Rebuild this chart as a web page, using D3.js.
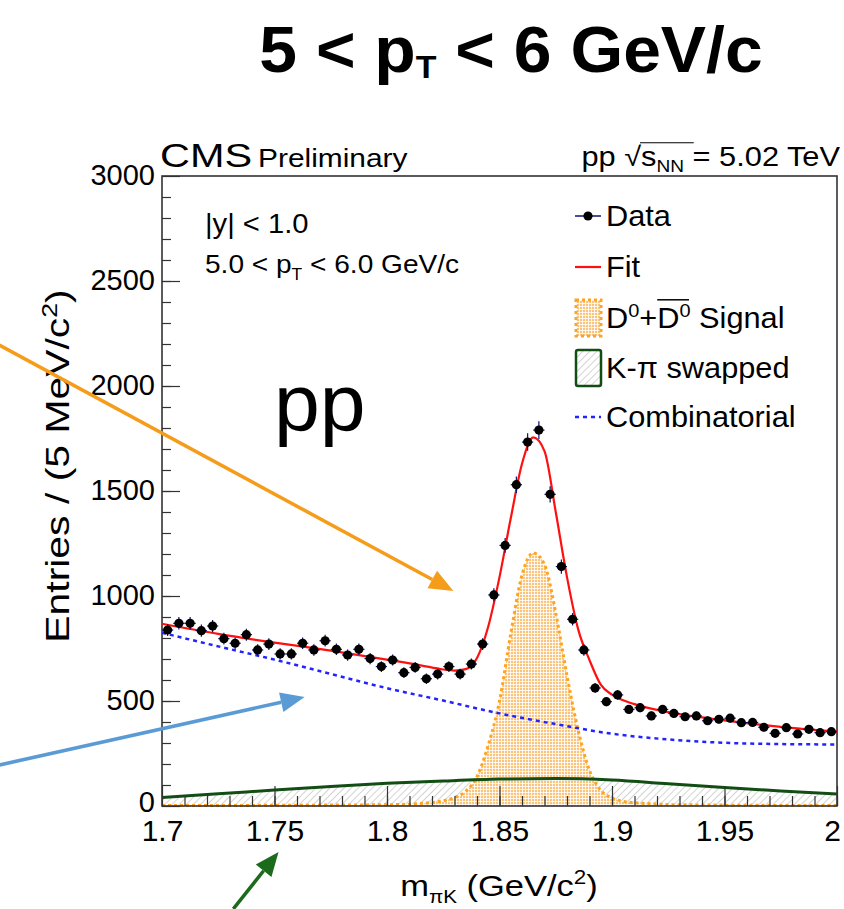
<!DOCTYPE html>
<html>
<head>
<meta charset="utf-8">
<script src="https://cdn.jsdelivr.net/npm/d3@7"></script>
<style>
  html, body { margin: 0; padding: 0; background: #fff; }
  svg { display: block; font-family: "Liberation Sans", Arial, Helvetica, sans-serif; }
</style>
</head>
<body>
<svg id="area" width="844" height="909"></svg>
<script>
// binned D0 candidate mass, 5 MeV bins from 1.7 GeV
const binLow = 1.7;
const binWidth = 0.005;
const counts = [
  838, 870, 870, 835, 857, 797, 775, 816, 743, 771,
  724, 724, 775, 743, 787, 746, 719, 746, 702, 664,
  695, 635, 660, 606, 628, 664, 628, 676, 771, 1005,
  1241, 1530, 1733, 1790, 1484, 1140, 889, 743, 562, 497,
  529, 460, 468, 429, 460, 441, 425, 429, 406, 413,
  418, 397, 398, 375, 346, 373, 343, 365, 349, 354,
];

// total fit (red)
const fitMass = [1.700, 1.725, 1.750, 1.775, 1.800, 1.815, 1.825, 1.830, 1.835, 1.840,
  1.845, 1.850, 1.855, 1.860, 1.865, 1.870, 1.875, 1.880, 1.885, 1.890,
  1.895, 1.900, 1.910, 1.925, 1.950, 1.975, 2.000];
const fitVals = [868, 820, 778, 740, 697, 670, 650, 645, 652, 705,
  855, 1090, 1370, 1630, 1755, 1690, 1400, 1090, 840, 695,
  578, 530, 485, 447, 408, 377, 354];

// combinatorial background (blue dashed)
const combMass = [1.700, 1.725, 1.750, 1.775, 1.800, 1.825, 1.850, 1.875, 1.900, 1.925, 1.950, 1.975, 2.000];
const combVals = [825, 760, 697, 629, 561, 502, 441, 390, 344, 317, 301, 295, 293];

// K-pi swapped (green, hatched)
const swapMass = [1.700, 1.725, 1.750, 1.775, 1.800, 1.825, 1.850, 1.875, 1.900, 1.925, 1.950, 1.975, 2.000];
const swapVals = [41, 58, 76, 93, 108, 119, 128, 131, 124, 106, 88, 72, 57];

// D0 + D0bar signal (orange)
const sigMass = [1.700, 1.800, 1.815, 1.825, 1.830, 1.835, 1.840, 1.845, 1.850, 1.855,
  1.860, 1.865, 1.870, 1.875, 1.880, 1.885, 1.890, 1.895, 1.900, 1.905,
  1.915, 1.930, 2.000];
const sigVals = [2, 6, 12, 25, 40, 70, 140, 290, 500, 820,
  1100, 1205, 1150, 920, 620, 360, 170, 75, 38, 22,
  12, 6, 2];

const xTicks = [1.7, 1.75, 1.8, 1.85, 1.9, 1.95, 2.0];
const xTickLabels = ['1.7', '1.75', '1.8', '1.85', '1.9', '1.95', '2'];
const yTicks = [0, 500, 1000, 1500, 2000, 2500, 3000];

const svg = d3.select('#area');
const x = d3.scaleLinear([1.7, 2.0], [162, 837]);
const y = d3.scaleLinear([0, 3000], [806, 176]);

const defs = svg.append('defs');
const grid = defs.append('pattern')
  .attr('id', 'sigfill')
  .attr('patternUnits', 'userSpaceOnUse')
  .attr('width', 3).attr('height', 3);
grid.append('rect').attr('width', 3).attr('height', 3).attr('fill', '#fbc47c');
grid.append('path').attr('d', 'M0,0.4H3M0.4,0V3').attr('stroke', '#fff').attr('stroke-width', 0.9);

const hatch = defs.append('pattern')
  .attr('id', 'swapfill')
  .attr('patternUnits', 'userSpaceOnUse')
  .attr('width', 5).attr('height', 5)
  .attr('patternTransform', 'rotate(45)');
hatch.append('line').attr('x1', 0).attr('y1', 0).attr('x2', 0).attr('y2', 5)
  .attr('stroke', '#a8a8a8').attr('stroke-width', 1);

const zip = (ms, vs) => ms.map((m, i) => [m, vs[i]]);
const line = d3.line().x((d) => x(d[0])).y((d) => y(d[1])).curve(d3.curveMonotoneX);
const area = d3.area().x((d) => x(d[0])).y0(y(0)).y1((d) => y(d[1])).curve(d3.curveMonotoneX);

// swapped component
svg.append('path').datum(zip(swapMass, swapVals))
  .attr('d', area).attr('fill', 'url(#swapfill)');

// signal
svg.append('path').datum(zip(sigMass, sigVals))
  .attr('d', area).attr('fill', 'url(#sigfill)');
svg.append('path').datum(zip(sigMass, sigVals))
  .attr('d', line).attr('fill', 'none')
  .attr('stroke', '#ffa420').attr('stroke-width', 3).attr('stroke-dasharray', '3,3');

svg.append('path').datum(zip(swapMass, swapVals))
  .attr('d', line).attr('fill', 'none')
  .attr('stroke', '#124d14').attr('stroke-width', 3);

// axes, ROOT style ticks pointing inward
const axisG = svg.append('g').attr('class', 'axes');
axisG.append('g')
  .attr('transform', `translate(0,${y(0)})`)
  .call(d3.axisBottom(x).tickValues(d3.range(1.71, 2.0, 0.01)).tickSize(-10).tickFormat(''));
axisG.append('g')
  .attr('transform', `translate(0,${y(0)})`)
  .call(d3.axisBottom(x).tickValues(xTicks).tickSize(-20).tickPadding(14)
    .tickFormat((d, i) => xTickLabels[i]))
  .selectAll('text')
  .attr('font-size', 30)
  .attr('dx', (d, i) => (i === xTicks.length - 1 ? -5 : 0));
axisG.append('g')
  .attr('transform', `translate(${x(1.7)},0)`)
  .call(d3.axisLeft(y).tickValues(d3.range(100, 3000, 100)).tickSize(-9).tickFormat(''));
axisG.append('g')
  .attr('transform', `translate(${x(1.7)},0)`)
  .call(d3.axisLeft(y).tickValues(yTicks).tickSize(-18).tickPadding(7).tickFormat(d3.format('d')))
  .selectAll('text')
  .attr('font-size', 29)
  .attr('dy', (d) => (d === 0 ? '0.18em' : '0.28em'));
axisG.selectAll('.domain').remove();
axisG.selectAll('line').attr('stroke', '#333').attr('stroke-width', 1.2);
axisG.selectAll('text').attr('fill', '#000')
  .attr('font-family', '"Liberation Sans", Arial, sans-serif');

svg.append('rect')
  .attr('x', x(1.7)).attr('y', y(3000))
  .attr('width', x(2.0) - x(1.7)).attr('height', y(0) - y(3000))
  .attr('fill', 'none').attr('stroke', '#333').attr('stroke-width', 1.6);

// combinatorial and fit
svg.append('path').datum(zip(combMass, combVals))
  .attr('d', line).attr('fill', 'none')
  .attr('stroke', '#2323ff').attr('stroke-width', 2.5).attr('stroke-dasharray', '4,4');
svg.append('path').datum(zip(fitMass, fitVals))
  .attr('d', line).attr('fill', 'none')
  .attr('stroke', '#ff1010').attr('stroke-width', 2.2);

// data points with stat errors
const pts = counts.map((c, i) => ({ m: binLow + (i + 0.5) * binWidth, c }));
const dataG = svg.append('g');
dataG.selectAll('line.ey').data(pts).join('line')
  .attr('class', 'ey')
  .attr('x1', (d) => x(d.m)).attr('x2', (d) => x(d.m))
  .attr('y1', (d) => y(d.c - Math.sqrt(d.c))).attr('y2', (d) => y(d.c + Math.sqrt(d.c)))
  .attr('stroke', '#101070').attr('stroke-width', 1.2);
dataG.selectAll('line.ex').data(pts).join('line')
  .attr('class', 'ex')
  .attr('x1', (d) => x(d.m - binWidth / 2)).attr('x2', (d) => x(d.m + binWidth / 2))
  .attr('y1', (d) => y(d.c)).attr('y2', (d) => y(d.c))
  .attr('stroke', '#101070').attr('stroke-width', 1.2);
dataG.selectAll('circle').data(pts).join('circle')
  .attr('cx', (d) => x(d.m)).attr('cy', (d) => y(d.c))
  .attr('r', 4.6).attr('fill', '#000');

// text helpers: the plot's lettering runs a bit wider than Liberation Sans,
// so each label sits in a group that stretches it along its reading direction
function addText(parent, px, py, parts, attrs, sx = 1, rot = 0) {
  const g = parent.append('g')
    .attr('transform', `translate(${px},${py}) rotate(${rot}) scale(${sx},1)`);
  const t = g.append('text');
  Object.keys(attrs).forEach((k) => t.attr(k, attrs[k]));
  parts.forEach((p) => {
    const s = t.append('tspan').text(p.t);
    if (p.sub) s.attr('font-size', p.sub).attr('dy', p.dy);
    if (p.back) s.attr('dy', p.back);
  });
  return { g, t };
}

// title
addText(svg, 511, 72, [
  { t: '5 < p' },
  { t: 'T', sub: '0.5em', dy: 6 },
  { t: ' < 6 GeV/c', back: -6 },
], { 'text-anchor': 'middle', 'font-size': 64, 'font-weight': 'bold' }, 1.06);

// header
addText(svg, 160, 167, [{ t: 'CMS' }], { 'font-size': 34 }, 1.22);
addText(svg, 258, 167, [{ t: 'Preliminary' }], { 'font-size': 26 }, 1.15);
const energy = addText(svg, 840, 166, [
  { t: 'pp  \u221A' },
  { t: 's' },
  { t: 'NN', sub: '0.62em', dy: 6 },
  { t: ' = 5.02 TeV', back: -6 },
], { 'text-anchor': 'end', 'font-size': 27 }, 1.14);
{
  const n = energy.t.node();
  const a = n.getExtentOfChar(4);
  const b = n.getExtentOfChar(7);
  energy.g.append('line')
    .attr('x1', a.x - 1).attr('x2', b.x + b.width + 1)
    .attr('y1', a.y + 1).attr('y2', a.y + 1)
    .attr('stroke', '#000').attr('stroke-width', 1.2);
}

// selection text
addText(svg, 205, 233, [{ t: '|y| < 1.0' }], { 'font-size': 27 }, 1.08);
addText(svg, 205, 273, [
  { t: '5.0 < p' },
  { t: 'T', sub: '0.62em', dy: 7 },
  { t: ' < 6.0 GeV/c', back: -7 },
], { 'font-size': 26 }, 1.08);

addText(svg, 274, 430, [{ t: 'pp' }], { 'font-size': 80 }, 1.03);

// legend
const leg = svg.append('g');
const legY = [216, 267, 318, 368, 417];
leg.append('line').attr('x1', 575).attr('x2', 601).attr('y1', legY[0]).attr('y2', legY[0])
  .attr('stroke', '#101070').attr('stroke-width', 1.5);
leg.append('circle').attr('cx', 588).attr('cy', legY[0]).attr('r', 4.6).attr('fill', '#000');
leg.append('line').attr('x1', 575).attr('x2', 601).attr('y1', legY[1]).attr('y2', legY[1])
  .attr('stroke', '#ff1010').attr('stroke-width', 2.2);
leg.append('rect').attr('x', 576).attr('y', legY[2] - 18).attr('width', 25).attr('height', 36)
  .attr('fill', 'url(#sigfill)').attr('stroke', '#ffa420').attr('stroke-width', 3)
  .attr('stroke-dasharray', '3,3');
leg.append('rect').attr('x', 576).attr('y', legY[3] - 18).attr('width', 25).attr('height', 36)
  .attr('fill', 'url(#swapfill)').attr('stroke', '#124d14').attr('stroke-width', 2.5).attr('rx', 2);
leg.append('line').attr('x1', 575).attr('x2', 601).attr('y1', legY[4]).attr('y2', legY[4])
  .attr('stroke', '#2323ff').attr('stroke-width', 2.5).attr('stroke-dasharray', '4,4');

const legFont = { 'font-size': 29 };
const legSx = 1.06;
addText(leg, 606, legY[0] + 10, [{ t: 'Data' }], legFont, legSx);
addText(leg, 606, legY[1] + 10, [{ t: 'Fit' }], legFont, legSx);
const sigText = addText(leg, 606, legY[2] + 10, [
  { t: 'D' },
  { t: '0', sub: '0.65em', dy: -11 },
  { t: '+D', back: 11 },
  { t: '0', sub: '0.65em', dy: -11 },
  { t: ' Signal', back: 11 },
], legFont, legSx);
{
  const e = sigText.t.node().getExtentOfChar(3);
  sigText.g.append('line').attr('x1', e.x).attr('x2', e.x + e.width + 9)
    .attr('y1', e.y - 2).attr('y2', e.y - 2)
    .attr('stroke', '#000').attr('stroke-width', 1.5);
}
addText(leg, 606, legY[3] + 10, [{ t: 'K-\u03C0 swapped' }], legFont, legSx);
addText(leg, 606, legY[4] + 10, [{ t: 'Combinatorial' }], legFont, legSx);

// axis titles
addText(svg, 69, 466, [
  { t: 'Entries / (5 MeV/c' },
  { t: '2', sub: '0.65em', dy: -12 },
  { t: ')', back: 12 },
], { 'text-anchor': 'middle', 'font-size': 33 }, 1.24, -90);
addText(svg, 499, 896, [
  { t: 'm' },
  { t: '\u03C0K', sub: '0.6em', dy: 7 },
  { t: ' (GeV/c', back: -7 },
  { t: '2', sub: '0.65em', dy: -12 },
  { t: ')', back: 12 },
], { 'text-anchor': 'middle', 'font-size': 30 }, 1.15);

// annotation arrows, placed in data units
const arrows = [
  { from: [1.6277, 2195], to: [1.8295, 1024], color: '#f59c1a' },
  { from: [1.6277, 195], to: [1.7634, 519], color: '#5b9bd5' },
  { from: [1.7317, -490], to: [1.7518, -219], color: '#1c6b1c' },
];
arrows.forEach((a) => {
  const x1 = x(a.from[0]); const y1 = y(a.from[1]);
  const x2 = x(a.to[0]); const y2 = y(a.to[1]);
  const ang = Math.atan2(y2 - y1, x2 - x1);
  const len = 24; const half = 10;
  const bx = x2 - len * Math.cos(ang); const by = y2 - len * Math.sin(ang);
  svg.append('line').attr('x1', x1).attr('y1', y1).attr('x2', bx).attr('y2', by)
    .attr('stroke', a.color).attr('stroke-width', 3.5);
  svg.append('path')
    .attr('d', `M${x2},${y2}L${bx + half * Math.sin(ang)},${by - half * Math.cos(ang)}L${bx - half * Math.sin(ang)},${by + half * Math.cos(ang)}Z`)
    .attr('fill', a.color);
});
</script>
</body>
</html>
